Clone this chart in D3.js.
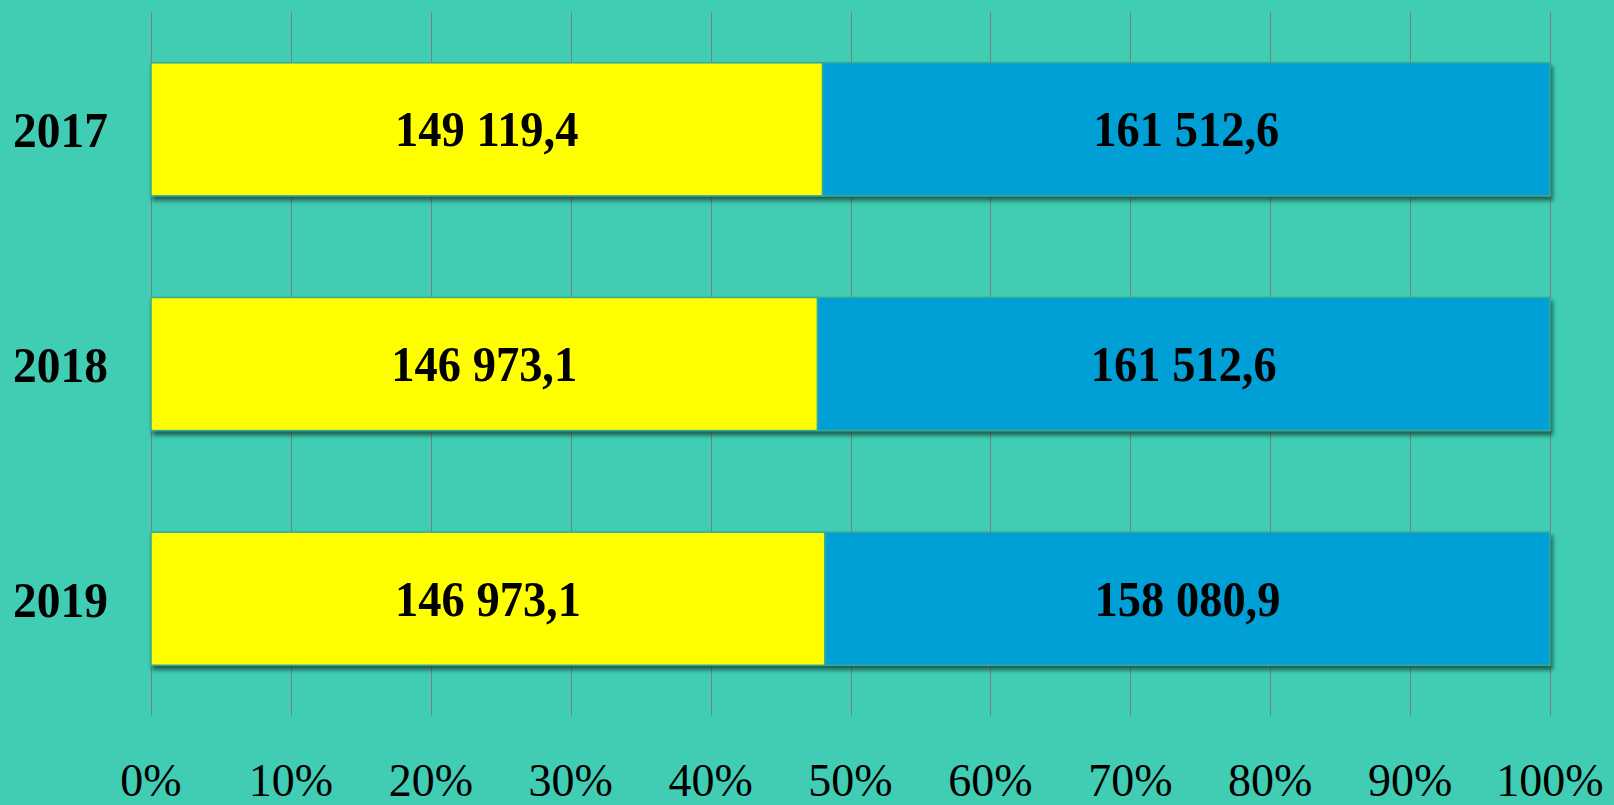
<!DOCTYPE html>
<html>
<head>
<meta charset="utf-8">
<script src="https://cdn.jsdelivr.net/npm/d3@7"></script>
<style>
  html, body { margin: 0; padding: 0; background: #40cdb4; overflow: hidden; }
  svg { display: block; }
</style>
</head>
<body>
<script>
'use strict';

var years = ['2017', '2018', '2019'];
var firstPart = [149119.4, 146973.1, 146973.1];
var secondPart = [161512.6, 161512.6, 158080.9];
var tickValues = [0, 0.1, 0.2, 0.3, 0.4, 0.5, 0.6, 0.7, 0.8, 0.9, 1];

build();

function build() {

  var width = 1614,
    height = 805,
    left = 151,
    right = 1550,
    top = 12,
    bottom = 716;

  var fmt = function(v) {
    var s = v.toFixed(1).split('.');
    return s[0].replace(/\B(?=(\d{3})+(?!\d))/g, ' ') + ',' + s[1];
  };

  var svg = d3.select('body').append('svg')
    .attr('width', width)
    .attr('height', height);

  var defs = svg.append('defs');
  var f = defs.append('filter').attr('id', 'shadow')
    .attr('x', '-5%').attr('y', '-10%').attr('width', '110%').attr('height', '130%');
  f.append('feDropShadow')
    .attr('dx', 2).attr('dy', 4).attr('stdDeviation', 2)
    .attr('flood-color', '#0a3a30').attr('flood-opacity', 0.75);

  var x = d3.scaleLinear().domain([0, 1]).range([left, right]);
  var y = d3.scaleBand().domain(years).range([top, bottom])
    .paddingInner(0.433).paddingOuter(0.2165);

  // grid
  svg.append('g').selectAll('line')
    .data(tickValues)
    .enter().append('line')
    .attr('x1', function(d) { return Math.round(x(d)) + 0.5; })
    .attr('x2', function(d) { return Math.round(x(d)) + 0.5; })
    .attr('y1', top)
    .attr('y2', bottom)
    .attr('stroke', '#7a7f7d')
    .attr('stroke-width', 1);

  var rows = years.map(function(yr, i) {
    var total = firstPart[i] + secondPart[i];
    return {
      year: yr,
      parts: [
        { v: firstPart[i], x0: 0, x1: firstPart[i] / total, color: '#ffff00' },
        { v: secondPart[i], x0: firstPart[i] / total, x1: 1, color: '#039fd6' }
      ]
    };
  });

  var row = svg.append('g').selectAll('g')
    .data(rows)
    .enter().append('g');

  row.append('g')
    .attr('filter', 'url(#shadow)')
    .selectAll('rect')
    .data(function(d) { return d.parts.map(function(p) { p.year = d.year; return p; }); })
    .enter().append('rect')
    .attr('x', function(d) { return x(d.x0); })
    .attr('y', function(d) { return y(d.year); })
    .attr('width', function(d) { return x(d.x1) - x(d.x0); })
    .attr('height', y.bandwidth())
    .attr('fill', function(d) { return d.color; })
    .attr('stroke', '#34ab96')
    .attr('stroke-width', 1.5);

  // value labels
  row.selectAll('text.val')
    .data(function(d) { return d.parts; })
    .enter().append('text')
    .attr('class', 'val')
    .attr('transform', function(d) {
      var cx = (x(d.x0) + x(d.x1)) / 2;
      var cy = y(d.year) + y.bandwidth() / 2 + 17;
      return 'translate(' + cx + ',' + cy + ') scale(0.93,1)';
    })
    .attr('text-anchor', 'middle')
    .attr('font-family', '"Liberation Serif", "Times New Roman", serif')
    .attr('font-weight', 'bold')
    .attr('font-size', 50)
    .attr('fill', '#000')
    .text(function(d) { return fmt(d.v); });

  // year labels
  svg.append('g').selectAll('text')
    .data(years)
    .enter().append('text')
    .attr('transform', function(d) {
      return 'translate(108,' + (y(d) + y.bandwidth() / 2 + 18) + ') scale(0.95,1)';
    })
    .attr('text-anchor', 'end')
    .attr('font-family', '"Liberation Serif", "Times New Roman", serif')
    .attr('font-weight', 'bold')
    .attr('font-size', 50)
    .attr('fill', '#000')
    .text(function(d) { return d; });

  // percent axis
  svg.append('g').selectAll('text')
    .data(tickValues)
    .enter().append('text')
    .attr('x', function(d) { return x(d); })
    .attr('y', 796)
    .attr('text-anchor', 'middle')
    .attr('font-family', '"Liberation Serif", "Times New Roman", serif')
    .attr('font-size', 46)
    .attr('fill', '#000')
    .text(d3.format('.0%'));
}
</script>
</body>
</html>
